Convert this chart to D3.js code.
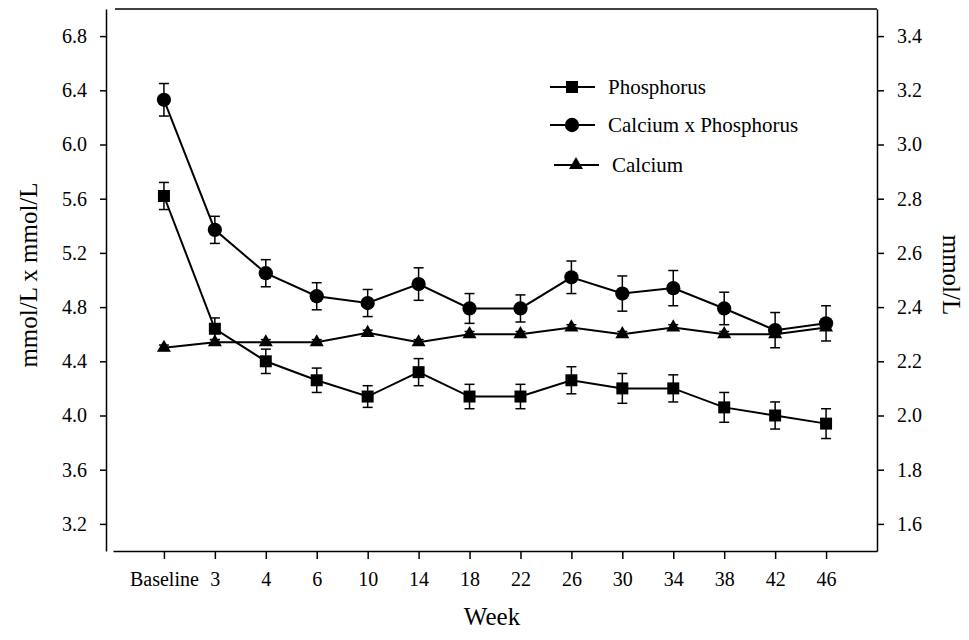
<!DOCTYPE html>
<html lang="en">
<head>
<meta charset="utf-8">
<title>Calcium and Phosphorus by Week</title>
<script src="https://cdn.jsdelivr.net/npm/d3@7/dist/d3.min.js"></script>
<style>
  body { margin: 0; background: #fff; }
  svg text { font-family: "Liberation Serif", "Times New Roman", serif; fill: #000; }
  .axis path, .axis line { fill: none; stroke: #000; stroke-width: 1.5px; }
  .axis text { font-size: 20px; font-family: "Liberation Serif", "Times New Roman", serif; }
</style>
</head>
<body>
<script>
// week categories
var weeks = ["Baseline", "3", "4", "6", "10", "14", "18", "22", "26", "30", "34", "38", "42", "46"];

// calcium x phosphorus, mmol/L x mmol/L (left axis)
var caxp    = [6.33, 5.37, 5.05, 4.88, 4.83, 4.97, 4.79, 4.79, 5.02, 4.90, 4.94, 4.79, 4.63, 4.68];
var caxpErr = [0.12, 0.10, 0.10, 0.10, 0.10, 0.12, 0.11, 0.10, 0.12, 0.13, 0.13, 0.12, 0.13, 0.13];

// phosphorus, mmol/L (right axis)
var phos    = [2.81, 2.32, 2.20, 2.13, 2.07, 2.16, 2.07, 2.07, 2.13, 2.10, 2.10, 2.03, 2.00, 1.97];
var phosErr = [0.05, 0.04, 0.045, 0.045, 0.04, 0.05, 0.045, 0.045, 0.05, 0.055, 0.05, 0.055, 0.05, 0.055];

// calcium, mmol/L (right axis)
var calc    = [2.25, 2.27, 2.27, 2.27, 2.305, 2.27, 2.30, 2.30, 2.325, 2.30, 2.325, 2.30, 2.30, 2.325];
var calcErr = [0.01, 0.01, 0.01, 0.01, 0.01, 0.01, 0.01, 0.01, 0.01, 0.01, 0.01, 0.01, 0.01, 0.01];

var leftTicks  = [3.2, 3.6, 4.0, 4.4, 4.8, 5.2, 5.6, 6.0, 6.4, 6.8];
var rightTicks = [1.6, 1.8, 2.0, 2.2, 2.4, 2.6, 2.8, 3.0, 3.2, 3.4];
var legendNames = ["Phosphorus", "Calcium x Phosphorus", "Calcium"];

var w = 969, h = 640;

var svg = d3.select("body").append("svg")
  .attr("width", w)
  .attr("height", h);

var x = d3.scaleLinear().domain([-1, weeks.length]).range([113, 877]);
var yL = d3.scaleLinear().domain([3.0, 7.0]).range([551, 9]);
var yR = d3.scaleLinear().domain([1.5, 3.5]).range([551, 9]);

// axes
svg.append("g")
  .attr("class", "axis")
  .attr("transform", "translate(106,0)")
  .call(d3.axisLeft(yL).tickValues(leftTicks).tickFormat(d3.format(".1f"))
    .tickSize(6).tickSizeOuter(0).tickPadding(13));

svg.append("g")
  .attr("class", "axis")
  .attr("transform", "translate(877,0)")
  .call(d3.axisRight(yR).tickValues(rightTicks).tickFormat(d3.format(".1f"))
    .tickSize(7).tickSizeOuter(0).tickPadding(13));

svg.append("g")
  .attr("class", "axis")
  .attr("transform", "translate(0,551)")
  .call(d3.axisBottom(x).tickValues(d3.range(weeks.length)).tickFormat(function(i) { return weeks[i]; })
    .tickSize(8).tickSizeOuter(0).tickPadding(13));

svg.selectAll(".axis").attr("font-family", null).attr("font-size", null);

// top frame line
svg.append("line")
  .attr("x1", 115).attr("x2", 877)
  .attr("y1", 9).attr("y2", 9)
  .attr("stroke", "#000").attr("stroke-width", 1.5);

// axis titles
svg.append("text")
  .attr("transform", "translate(37,275) rotate(-90)")
  .attr("text-anchor", "middle")
  .attr("font-size", "25px")
  .text("mmol/L x mmol/L");

svg.append("text")
  .attr("transform", "translate(943,275) rotate(90)")
  .attr("text-anchor", "middle")
  .attr("font-size", "25px")
  .text("mmol/L");

svg.append("text")
  .attr("x", 492).attr("y", 625)
  .attr("text-anchor", "middle")
  .attr("font-size", "25px")
  .text("Week");

// series
var series = [
  { vals: phos, err: phosErr, y: yR, sym: d3.symbolSquare, size: 144 },
  { vals: caxp, err: caxpErr, y: yL, sym: d3.symbolCircle, size: 160 },
  { vals: calc, err: calcErr, y: yR, sym: d3.symbolTriangle, size: 85 }
];

var line = d3.line();

series.forEach(function(s) {
  var y = s.y;
  svg.append("path")
    .attr("d", line(s.vals.map(function(v, i) { return [x(i), y(v)]; })))
    .attr("fill", "none")
    .attr("stroke", "#000")
    .attr("stroke-width", 2);

  var eb = svg.append("g").attr("stroke", "#000").attr("stroke-width", 1.5);
  s.vals.forEach(function(v, i) {
    var lo = y(v - s.err[i]), hi = y(v + s.err[i]);
    eb.append("line").attr("x1", x(i)).attr("x2", x(i)).attr("y1", lo).attr("y2", hi);
    eb.append("line").attr("x1", x(i) - 5).attr("x2", x(i) + 5).attr("y1", lo).attr("y2", lo);
    eb.append("line").attr("x1", x(i) - 5).attr("x2", x(i) + 5).attr("y1", hi).attr("y2", hi);
  });

  svg.selectAll(null)
    .data(s.vals)
    .enter()
    .append("path")
    .attr("transform", function(d, i) { return "translate(" + x(i) + "," + y(d) + ")"; })
    .attr("d", d3.symbol().type(s.sym).size(s.size))
    .attr("fill", "#000");
});

// legend
var legY = [87, 125, 165];
var legShift = [0, 0, 4];
legendNames.forEach(function(name, i) {
  var dx = legShift[i];
  svg.append("line")
    .attr("x1", 550 + dx).attr("x2", 595 + dx)
    .attr("y1", legY[i]).attr("y2", legY[i])
    .attr("stroke", "#000").attr("stroke-width", 2);
  svg.append("path")
    .attr("transform", "translate(" + (572 + dx) + "," + legY[i] + ")")
    .attr("d", d3.symbol().type(series[i].sym).size(series[i].size))
    .attr("fill", "#000");
  svg.append("text")
    .attr("x", 608 + dx).attr("y", legY[i])
    .attr("dy", "0.32em")
    .attr("font-size", "21px")
    .text(name);
});
</script>
</body>
</html>
